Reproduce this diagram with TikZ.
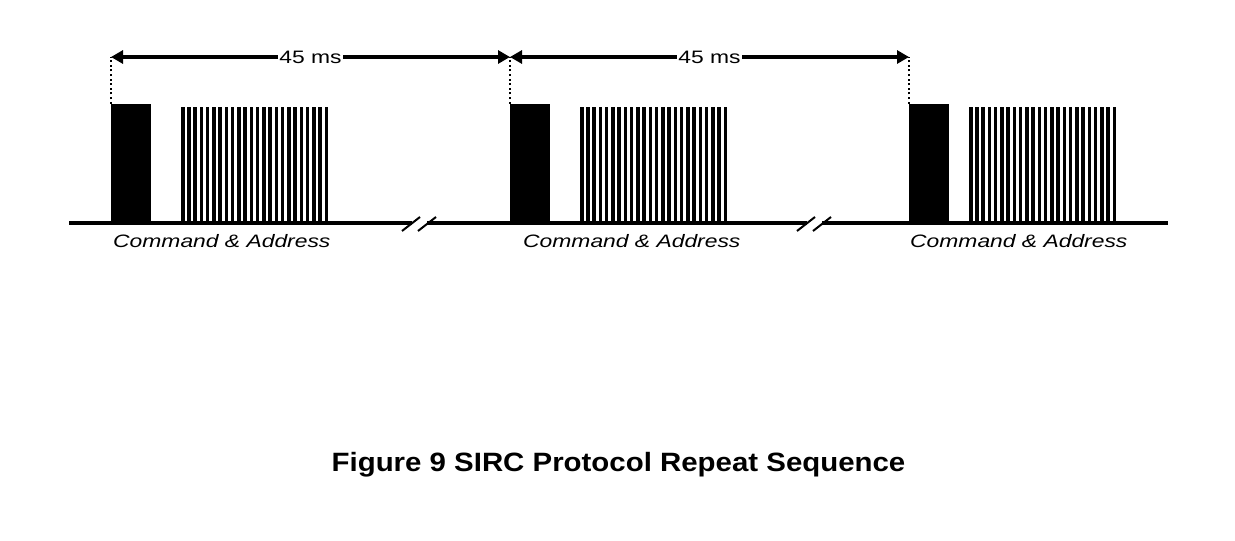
\documentclass[tikz,border=0pt]{standalone}
\usepackage{fontspec}
\setmainfont{Liberation Sans}
\newfontfamily\capfont[FakeStretch=1.27]{Liberation Sans}
\newfontfamily\titlefont[FakeStretch=1.11]{Liberation Sans}
\usetikzlibrary{arrows.meta,positioning}
\tikzset{
  burst/.style={fill=black,minimum width=40pt,minimum height=121pt,inner sep=0pt,anchor=south west},
  period/.style={{Triangle[length=12pt,width=13pt]}-{Triangle[length=12pt,width=13pt]},line width=3.2pt},
  guide/.style={line width=2pt,dash pattern=on 2pt off 2.6pt},
  wire/.style={line width=3.2pt},
  stamp/.style={fill=white,inner sep=1.5pt,font=\capfont\fontsize{18}{20}\selectfont},
  addr/.style={anchor=base west,inner sep=0pt,font=\capfont\itshape\fontsize{18}{20}\selectfont},
}
\begin{document}
\begin{tikzpicture}[x=1pt,y=-1pt]
  \useasboundingbox (0,0) rectangle (1235,541);

  \draw[wire] (69,223) -- (412,223) (427,223) -- (807,223) (822,223) -- (1168,223);
  \foreach \sx in {402,797} {
    \draw[line width=2pt] (\sx,231) -- ++(18,-14);
    \draw[line width=2pt] (\sx+16,231) -- ++(18,-14);
  }

  \foreach \bx/\dx/\lx/\n in {111/70/113/a, 510/70/523/b, 909/60/910/c} {
    \node[burst] (burst-\n) at (\bx,225) {};
    \foreach \k in {0,...,23}
      \fill ({\bx+\dx+\k*6.24},107) rectangle ++(3.5,117);
    \node[addr] (addr-\n) at (\lx,247) {Command \& Address};
    \coordinate (t-\n) at (\bx,57);
    \draw[guide] (burst-\n.north west) -- (t-\n);
  }

  \draw[period] (t-a) -- node[stamp] (gap-a) {45 ms} (t-b);
  \draw[period] (t-b) -- node[stamp] (gap-b) {45 ms} (t-c);

  \node[anchor=base,font=\titlefont\bfseries\fontsize{26.5}{30}\selectfont] (title) at (618.5,471)
    {Figure 9 SIRC Protocol Repeat Sequence};
\end{tikzpicture}
\end{document}
